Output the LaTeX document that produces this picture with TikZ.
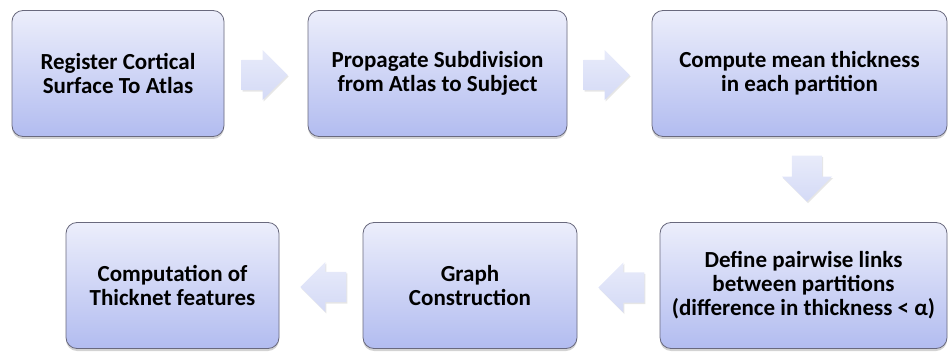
\documentclass[tikz,border=0pt]{standalone}
\usepackage{fontspec}
\setmainfont{Carlito}
\usepackage{xcolor}
\usepackage{tikz}
\usetikzlibrary{shapes.arrows,shadows}

\definecolor{boxtop}{RGB}{236,238,251}
\definecolor{boxbot}{RGB}{178,188,240}
\definecolor{boxline}{RGB}{105,105,125}
\definecolor{arrtop}{RGB}{232,235,250}
\definecolor{arrbot}{RGB}{212,218,246}

\begin{document}
\begin{tikzpicture}[x=1pt, y=-1pt,
    stage/.style={draw=boxline, line width=0.8pt, rounded corners=11pt,
      top color=boxtop, bottom color=boxbot, align=center,
      font=\fontsize{23}{24}\selectfont\bfseries, inner sep=0pt,
      minimum height=126pt,
      drop shadow={shadow xshift=0pt, shadow yshift=-2.5pt, opacity=0.35}},
    flow/.style={single arrow, single arrow head extend=10pt, minimum width=50pt,
      minimum height=46pt, inner xsep=0pt, inner ysep=15pt, draw=none,
      top color=arrtop, bottom color=arrbot, anchor=tip,
      drop shadow={shadow xshift=1pt, shadow yshift=-1.5pt, opacity=0.2}}]
    \useasboundingbox (0,0) rectangle (949,352);

    \node[stage, minimum width=212pt] (reg) at (118, 73.5) {Register Cortical\\Surface To Atlas};
    \node[stage, minimum width=259pt] (prop) at (437.5, 73.5) {Propagate Subdivision\\from Atlas to Subject};
    \node[stage, minimum width=295pt] (mean) at (799.5, 73.5) {Compute mean thickness\\in each partition};
    \node[stage, minimum width=287pt] (links) at (803.5, 285.5) {Define pairwise links\\between partitions\\(difference in thickness < α)};
    \node[stage, minimum width=214pt] (graph) at (470, 285.5) {Graph\\Construction};
    \node[stage, minimum width=213pt] (feat) at (172.5, 285.5) {Computation of\\Thicknet features};

    \node[flow] (a1) at (288, 75) {};
    \node[flow] (a2) at (630, 75) {};
    \node[flow, rotate=-90] (a3) at (807, 202) {};
    \node[flow, rotate=180] (a4) at (598, 287.5) {};
    \node[flow, rotate=180] (a5) at (300, 287) {};
  \end{tikzpicture}
\end{document}
